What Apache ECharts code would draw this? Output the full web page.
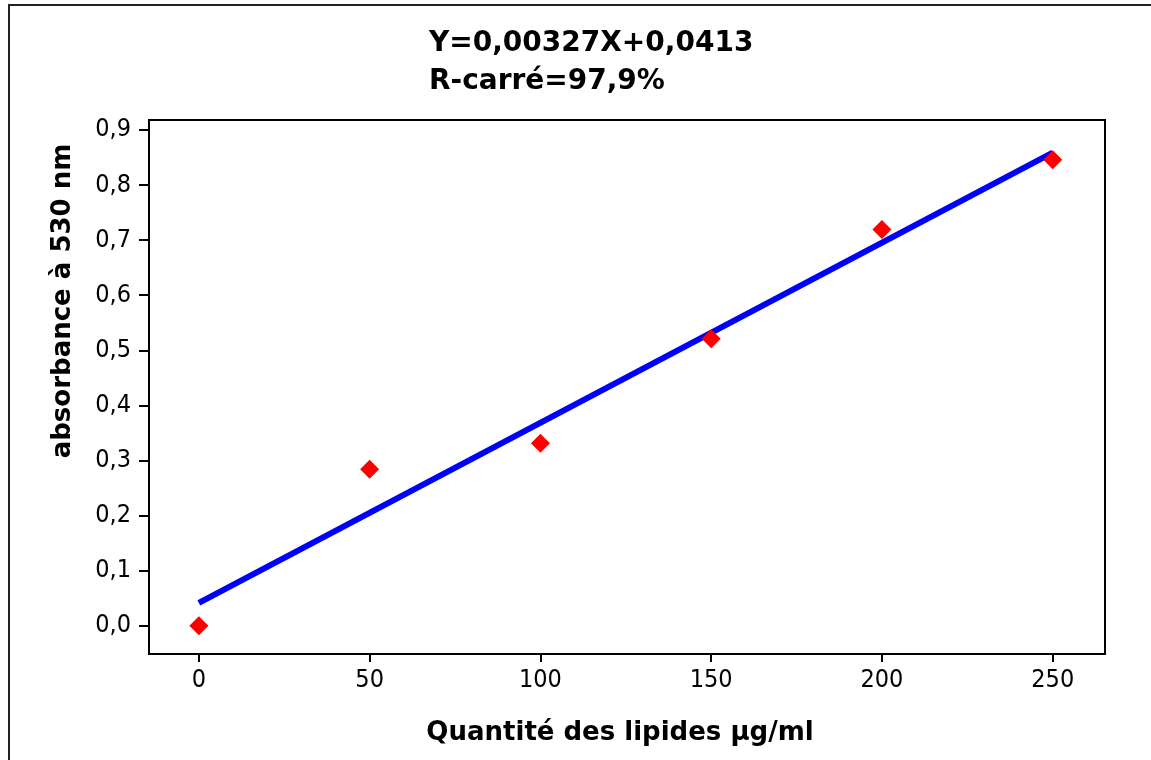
<!DOCTYPE html>
<html>
<head>
<meta charset="utf-8">
<script src="https://cdn.jsdelivr.net/npm/echarts@6/dist/echarts.min.js"></script>
<style>
  html, body { margin: 0; padding: 0; background: #fff; }
  #chart { width: 1151px; height: 760px; }
</style>
</head>
<body>
<div id="chart"></div>
<script>
// Lipid calibration: absorbance at 530 nm vs lipid quantity
const quantities = [0, 50, 100, 150, 200, 250];
const absorbances = [0.0, 0.284, 0.331, 0.521, 0.719, 0.846];

// Least-squares fit reported in the heading
const fitSlope = 0.00327;
const fitIntercept = 0.0413;
const fitRange = [0, 250];

const xTickValues = [0, 50, 100, 150, 200, 250];
const yTickValues = [0, 0.1, 0.2, 0.3, 0.4, 0.5, 0.6, 0.7, 0.8, 0.9];

const headingLines = ['Y=0,00327X+0,0413', 'R-carré=97,9%'];
const xTitle = 'Quantité des lipides µg/ml';
const yTitle = 'absorbance à 530 nm';

const points = quantities.map((q, i) => [q, absorbances[i]]);
const fitLine = fitRange.map(x => [x, fitSlope * x + fitIntercept]);

const tickFont = '"DejaVu Sans Condensed", "DejaVu Sans", sans-serif';
const boldFont = '"DejaVu Sans", sans-serif';

const chart = echarts.init(document.getElementById('chart'), null, { renderer: 'canvas' });
chart.setOption({
  animation: false,
  backgroundColor: '#fff',
  title: {
    text: headingLines.join('\n'),
    left: 424,
    top: 20,
    textStyle: { fontFamily: boldFont, fontWeight: 'bold', fontSize: 28, lineHeight: 38, color: '#000' }
  },
  grid: {
    left: 149, top: 120, right: 46, bottom: 106,
    show: true, borderColor: '#000', borderWidth: 2, backgroundColor: '#fff'
  },
  xAxis: {
    type: 'value',
    min: -14.6, max: 265.3,
    splitLine: { show: false },
    axisLine: { show: true, onZero: false, lineStyle: { color: '#000', width: 2 } },
    axisTick: { show: true, customValues: xTickValues, length: 8, lineStyle: { color: '#000', width: 2 } },
    axisLabel: {
      customValues: xTickValues, margin: 14,
      fontFamily: tickFont, fontSize: 25, color: '#000'
    },
    name: xTitle,
    nameLocation: 'middle',
    nameGap: 66,
    nameTextStyle: { fontFamily: boldFont, fontWeight: 'bold', fontSize: 26, color: '#000', padding: [0, 14, 0, 0] }
  },
  yAxis: {
    type: 'value',
    min: -0.0514, max: 0.918,
    splitLine: { show: false },
    axisLine: { show: true, onZero: false, lineStyle: { color: '#000', width: 2 } },
    axisTick: { show: true, customValues: yTickValues, length: 10, lineStyle: { color: '#000', width: 2 } },
    axisLabel: {
      customValues: yTickValues, margin: 18,
      fontFamily: tickFont, fontSize: 25, color: '#000',
      formatter: v => v.toFixed(1).replace('.', ',')
    }
  },
  graphic: [
    {
      type: 'rect',
      shape: { x: 9, y: 5, width: 1200, height: 800 },
      style: { fill: null, stroke: '#222', lineWidth: 2 },
      silent: true, z: 100
    },
    {
      type: 'text',
      x: 63, y: 301,
      rotation: Math.PI / 2,
      style: {
        text: yTitle,
        fontFamily: boldFont, fontWeight: 'bold', fontSize: 26, fill: '#000',
        align: 'center', verticalAlign: 'middle'
      },
      z: 100
    }
  ],
  series: [
    {
      type: 'line',
      data: fitLine,
      showSymbol: false,
      symbol: 'none',
      lineStyle: { color: '#0000ff', width: 6 },
      z: 2
    },
    {
      type: 'scatter',
      data: points,
      symbol: 'diamond',
      symbolSize: [19, 19],
      itemStyle: { color: '#ff0000', opacity: 1 },
      z: 3
    }
  ]
});
</script>
</body>
</html>
